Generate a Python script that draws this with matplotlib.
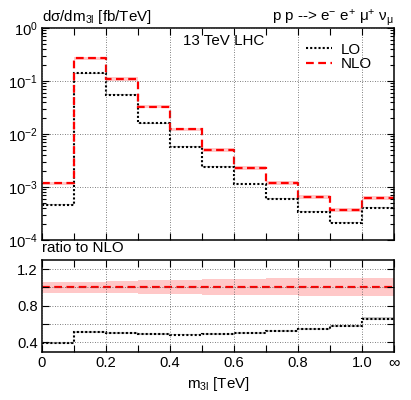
import numpy as np
import matplotlib
matplotlib.use("Agg")
import matplotlib.pyplot as plt
from matplotlib.ticker import MultipleLocator, LogLocator, NullFormatter

plt.rcParams['font.family'] = ['Liberation Sans', 'DejaVu Sans']
plt.rcParams['mathtext.fontset'] = 'custom'
plt.rcParams['mathtext.rm'] = 'Liberation Sans'
plt.rcParams['mathtext.it'] = 'Liberation Sans:italic'
plt.rcParams['mathtext.default'] = 'regular'

# bin edges in TeV (last bin is overflow, drawn up to 1.1)
edges = [0.0, 0.1, 0.2, 0.3, 0.4, 0.5, 0.6, 0.7, 0.8, 0.9, 1.0, 1.1]

# d sigma / d m3l [fb/TeV]
lo = [4.6e-4, 0.140, 0.055, 0.016, 5.8e-3, 2.4e-3, 1.14e-3, 6.0e-4, 3.4e-4, 2.13e-4, 4.1e-4]
nlo = [1.17e-3, 0.268, 0.109, 0.033, 0.0122, 4.9e-3, 2.3e-3, 1.18e-3, 6.4e-4, 3.7e-4, 6.2e-4]

# ratio to NLO
ratio_lo = [0.396, 0.511, 0.504, 0.49, 0.486, 0.493, 0.507, 0.53, 0.55, 0.576, 0.66]
nlo_band_up = [1.065, 1.065, 1.07, 1.08, 1.085, 1.09, 1.095, 1.10, 1.10, 1.105, 1.10]
nlo_band_dn = [0.935, 0.935, 0.935, 0.93, 0.925, 0.92, 0.915, 0.915, 0.91, 0.91, 0.91]
lo_band_rel = 0.02

RED = '#ff0000'
PINK = '#ffc8c8'
GREY = '#c8c8c8'
FS = 10.6

fig = plt.figure(figsize=(4.11, 4.0), dpi=100)
ax = fig.add_axes([0.102, 0.40, 0.857, 0.53])
axr = fig.add_axes([0.102, 0.121, 0.857, 0.229], sharex=ax)

lo_a = np.array(lo)
nlo_a = np.array(nlo)
rlo = np.array(ratio_lo)
up = np.array(nlo_band_up)
dn = np.array(nlo_band_dn)

# main panel
ax.stairs(nlo_a * up, edges, baseline=nlo_a * dn, fill=True, color=PINK, lw=0)
ax.stairs(lo_a * (1 + lo_band_rel), edges, baseline=lo_a * (1 - lo_band_rel),
          fill=True, color=GREY, lw=0)
ax.stairs(lo_a, edges, baseline=None, color='black', lw=1.5,
          linestyle=(0, (1, 1)), label='LO')
ax.stairs(nlo_a, edges, baseline=None, color=RED, lw=1.6,
          linestyle=(0, (3.5, 2)), label='NLO')
ax.set_yscale('log')
ax.set_ylim(1e-4, 1)
ax.set_xlim(0, 1.1)
ax.yaxis.set_major_locator(LogLocator(base=10, numticks=10))
ax.yaxis.set_minor_locator(LogLocator(base=10, subs=np.arange(2, 10), numticks=20))
ax.yaxis.set_minor_formatter(NullFormatter())
ax.tick_params(labelbottom=False)

# ratio panel
axr.stairs(up, edges, baseline=dn, fill=True, color=PINK, lw=0)
axr.stairs(rlo * (1 + lo_band_rel), edges, baseline=rlo * (1 - lo_band_rel),
           fill=True, color=GREY, lw=0)
axr.stairs(rlo, edges, baseline=None, color='black', lw=1.5, linestyle=(0, (1, 1)))
axr.stairs(np.ones(len(rlo)), edges, baseline=None, color=RED, lw=1.6,
           linestyle=(0, (3.5, 2)))
axr.set_ylim(0.3, 1.3)
axr.set_yticks([0.4, 0.6, 0.8, 1.0, 1.2])
axr.set_yticklabels(['0.4', '', '0.8', '', '1.2'])
axr.set_xticks([0, 0.2, 0.4, 0.6, 0.8, 1.0])
axr.set_xticklabels(['0', '0.2', '0.4', '0.6', '0.8', '1.0'])
axr.xaxis.set_minor_locator(MultipleLocator(0.1))

for a in (ax, axr):
    a.grid(True, which='major', color='#555555', lw=0.6, linestyle=(0, (1, 2)))
    a.tick_params(which='both', direction='in', top=True, right=True, labelsize=FS,
                  width=0.8, color='black')
    a.tick_params(which='major', length=5, pad=3)
    a.tick_params(which='minor', length=3)
    a.tick_params(axis='x', which='minor', length=5)
    a.set_axisbelow(False)
    for s in a.spines.values():
        s.set_linewidth(1.1)

axr.text(1.1, -0.04, r'$\infty$', transform=axr.get_xaxis_transform(),
         ha='center', va='top', fontsize=FS + 1)

axr.set_xlabel(r'm$_{\mathrm{3l}}$ [TeV]', fontsize=FS + 0.3, labelpad=4)

ax.legend(loc='upper right', bbox_to_anchor=(0.975, 0.995), frameon=False,
          fontsize=FS + 0.3, handlelength=1.75, handletextpad=0.55, labelspacing=0.05)
ax.text(0.516, 0.939, '13 TeV LHC', transform=ax.transAxes, ha='center', va='center',
        fontsize=FS + 0.3)

fig.text(42 / 411, 1 - 21 / 400, r'd$\sigma$/dm$_{\mathrm{3l}}$ [fb/TeV]',
         ha='left', va='baseline', fontsize=FS + 0.3)
fig.text(394 / 411, 1 - 21 / 400,
         r'p p --> e$^{-}$ e$^{+}$ $\mu^{+}$ $\nu_{\mu}$',
         ha='right', va='baseline', fontsize=FS + 0.3)
fig.text(42 / 411, 1 - 252 / 400, 'ratio to NLO', ha='left', va='baseline',
         fontsize=FS + 0.3)

fig.savefig('out.png', dpi=100)
